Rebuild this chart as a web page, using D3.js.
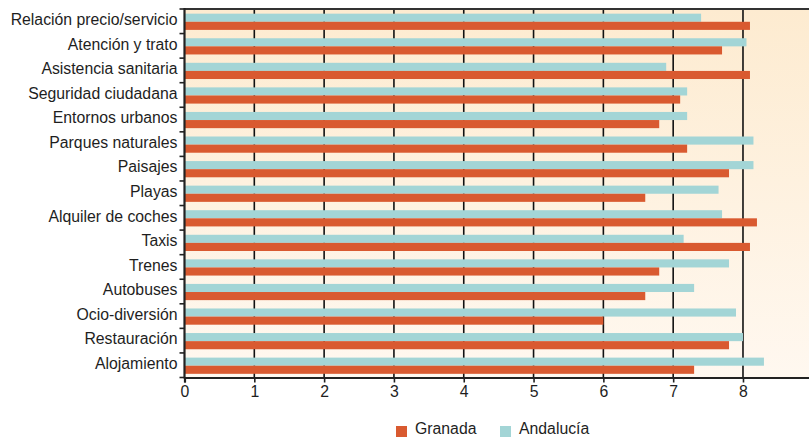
<!DOCTYPE html>
<html><head><meta charset="utf-8">
<script src="https://cdn.jsdelivr.net/npm/d3@7"></script>
<style>
html,body{margin:0;padding:0;background:#fff;overflow:hidden}
text{font-family:"Liberation Sans",Arial,Helvetica,sans-serif;fill:#1e1e1e}
</style></head><body>
<svg id="c" width="809" height="437"></svg>
<script>
const categories = ["Relación precio/servicio","Atención y trato","Asistencia sanitaria","Seguridad ciudadana","Entornos urbanos","Parques naturales","Paisajes","Playas","Alquiler de coches","Taxis","Trenes","Autobuses","Ocio-diversión","Restauración","Alojamiento"];
const granada   = [8.1, 7.7, 8.1, 7.1, 6.8, 7.2, 7.8, 6.6, 8.2, 8.1, 6.8, 6.6, 6.0, 7.8, 7.3];
const andalucia = [7.4, 8.05, 6.9, 7.2, 7.2, 8.15, 8.15, 7.65, 7.7, 7.15, 7.8, 7.3, 7.9, 8.0, 8.3];
const xTicks = [0,1,2,3,4,5,6,7,8,9];
const seriesNames = ["Granada","Andalucía"];
const colors = {"Granada":"#d95a30","Andalucía":"#a3d5d6"};

(function(){
const svg = d3.select("#c");
const pLeft = 184.5, pTop = 9, pBottom = 377.5;
const fs = 15.8;
const x = d3.scaleLinear().domain([0,9]).range([pLeft, 812.8]);
const y = d3.scaleBand().domain(categories).range([pTop + 0.5, pBottom + 0.5]).paddingInner(0.34).paddingOuter(0.17);
const sub = d3.scaleBand().domain(["Andalucía","Granada"]).range([0, y.bandwidth()]);

const defs = svg.append("defs");
const g = defs.append("linearGradient").attr("id","bg").attr("x1",0).attr("y1",0).attr("x2",0).attr("y2",1);
g.append("stop").attr("offset","0%").attr("stop-color","#fdebd0");
g.append("stop").attr("offset","100%").attr("stop-color","#fff8f0");

svg.append("rect").attr("x",pLeft).attr("y",pTop).attr("width",809-pLeft).attr("height",pBottom-pTop).attr("fill","url(#bg)");

svg.append("g").selectAll("line").data(xTicks.filter(d=>d>0)).join("line")
  .attr("x1",d=>x(d)).attr("x2",d=>x(d)).attr("y1",pTop).attr("y2",pBottom)
  .attr("stroke","#111").attr("stroke-width",1.6);

const data = categories.map((c,i)=>({cat:c, vals:[{s:"Andalucía",v:andalucia[i]},{s:"Granada",v:granada[i]}]}));
const grp = svg.append("g").selectAll("g").data(data).join("g").attr("transform",d=>`translate(0,${y(d.cat)})`);
grp.selectAll("rect").data(d=>d.vals).join("rect")
  .attr("x",x(0)).attr("y",d=>sub(d.s)).attr("height",sub.bandwidth())
  .attr("width",d=>x(d.v)-x(0)).attr("fill",d=>colors[d.s]);

svg.append("line").attr("x1",pLeft).attr("x2",809).attr("y1",pTop).attr("y2",pTop).attr("stroke","#333").attr("stroke-width",2.2);

const step = (pBottom - pTop) / categories.length;
const yTickPos = d3.range(categories.length+1).map(i=>pTop + i*step);
svg.append("g").selectAll("line").data(yTickPos).join("line")
  .attr("x1",pLeft-5).attr("x2",pLeft).attr("y1",d=>d).attr("y2",d=>d).attr("stroke","#222").attr("stroke-width",1.6);
svg.append("line").attr("x1",pLeft).attr("x2",pLeft).attr("y1",pTop-1).attr("y2",pBottom+1).attr("stroke","#222").attr("stroke-width",2.2);
svg.append("g").selectAll("text").data(categories).join("text")
  .attr("x",pLeft-7).attr("y",(d,i)=>pTop + (i+0.5)*step).attr("dy","0.24em")
  .attr("text-anchor","end").attr("font-size",fs).text(d=>d);

const xAxis = d3.axisBottom(x).tickValues(xTicks).tickSize(5).tickFormat(d3.format("d"));
const xa = svg.append("g").attr("transform",`translate(0,${pBottom})`).call(xAxis);
xa.select(".domain").attr("stroke","#222").attr("stroke-width",2.2);
xa.selectAll(".tick line").attr("stroke","#222").attr("stroke-width",1.6);
xa.selectAll(".tick text").attr("font-size",fs).attr("y",8).attr("font-family","Liberation Sans, Arial, sans-serif").attr("fill","#1e1e1e");

const legX = {"Granada":396,"Andalucía":500};
const leg = svg.append("g").selectAll("g").data(seriesNames).join("g").attr("transform",d=>`translate(${legX[d]},426)`);
leg.append("rect").attr("width",11).attr("height",11).attr("fill",d=>colors[d]);
leg.append("text").attr("x",19).attr("y",8).attr("font-size",fs).text(d=>d);
})();
</script></body></html>
